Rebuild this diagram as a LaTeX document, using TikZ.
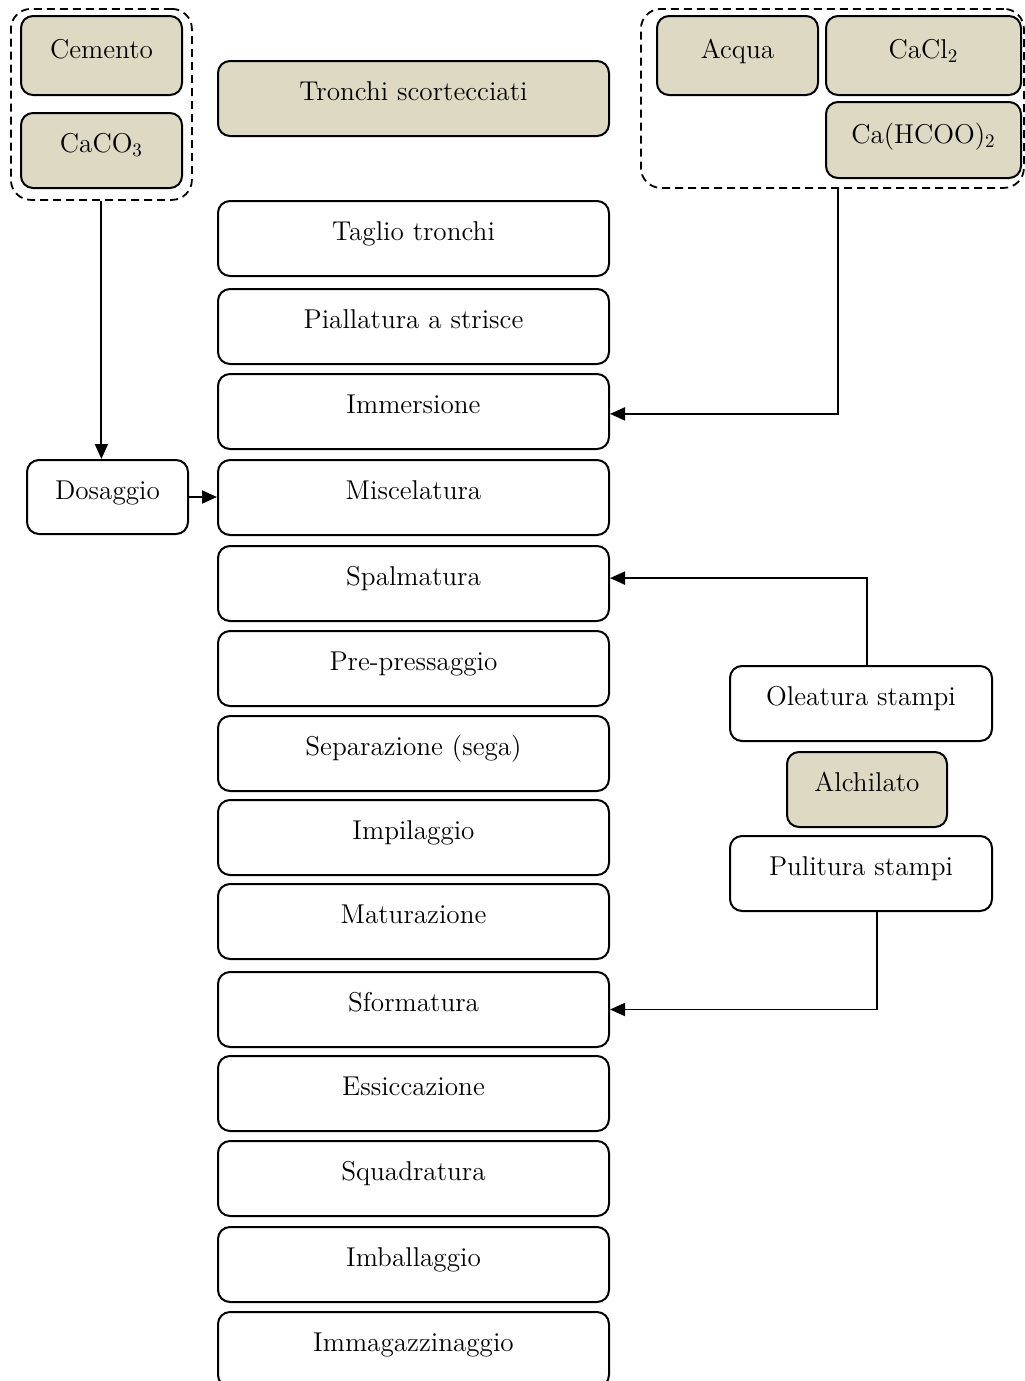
\documentclass[tikz,border=0pt]{standalone}
\usetikzlibrary{arrows.meta}
\definecolor{beige}{RGB}{221,217,195}
\begin{document}
\begin{tikzpicture}[x=0.5pt,y=-0.5pt,
  font=\fontsize{13.6}{16}\selectfont,
  box/.style={draw, line width=1pt, rounded corners=6pt, inner sep=0pt,
    anchor=north west, text height=19.8pt, text depth=17.7pt, align=center},
  main/.style={box, minimum width=195.5pt},
  chem/.style={box, fill=beige},
  grp/.style={draw, dashed, dash pattern=on 4pt off 2.5pt, line width=0.9pt,
    rounded corners=10pt, inner sep=0pt, anchor=north west},
  flow/.style={line width=0.95pt, -{Triangle[length=7.5pt,width=6.5pt]}}]
\useasboundingbox (0,0) rectangle (1024,1381);

% main process column
\node[main, fill=beige] (tronchi) at (217,60)   {Tronchi scortecciati};
\node[main] (taglio)  at (217,200)  {Taglio tronchi};
\node[main] (pial)    at (217,288)  {Piallatura a strisce};
\node[main] (imm)     at (217,373)  {Immersione};
\node[main] (misc)    at (217,459)  {Miscelatura};
\node[main] (spal)    at (217,545)  {Spalmatura};
\node[main] (pre)     at (217,630)  {Pre-pressaggio};
\node[main] (sep)     at (217,715)  {Separazione (sega)};
\node[main] (impil)   at (217,799)  {Impilaggio};
\node[main] (mat)     at (217,883)  {Maturazione};
\node[main] (sform)   at (217,971)  {Sformatura};
\node[main] (ess)     at (217,1055) {Essiccazione};
\node[main] (squad)   at (217,1140) {Squadratura};
\node[main] (imbal)   at (217,1226) {Imballaggio};
\node[main] (immag)   at (217,1311) {Immagazzinaggio};

% binder group
\node[grp, minimum width=90.5pt, minimum height=95.5pt] (lgrp) at (10,8) {};
\node[chem, minimum width=80.5pt, text height=21.3pt, text depth=18.2pt] (cem) at (20,15) {Cemento};
\node[chem, minimum width=80.5pt] (caco) at (20,112) {CaCO\textsubscript{3}};
\node[box, minimum width=80.5pt, text depth=17.2pt] (dos) at (26,459) {Dosaggio};

% additive group
\node[grp, minimum width=191.5pt, minimum height=89.5pt] (rgrp) at (640,8) {};
\node[chem, minimum width=80.5pt, text height=21.3pt, text depth=18.2pt] (acq) at (656,15) {Acqua};
\node[chem, minimum width=97.5pt, text height=21.3pt, text depth=18.2pt] (cacl) at (825,15) {CaCl\textsubscript{2}};
\node[chem, minimum width=97.5pt, text height=20.8pt, text depth=17.2pt] (caf) at (825,101) {Ca(HCOO)\textsubscript{2}};

% mould handling
\node[box, minimum width=131pt] (ole) at (729,665) {Oleatura stampi};
\node[chem, minimum width=80pt] (alc) at (786,751) {Alchilato};
\node[box, minimum width=131pt] (pul) at (729,835) {Pulitura stampi};

% connectors
\draw[flow] (lgrp.south) -- (lgrp.south |- dos.north);
\draw[flow] (dos.east) -- (dos.east -| misc.west);
\draw[flow] ([xshift=3pt]rgrp.south) |- ([yshift=-1.2pt]imm.east);
\draw[flow] ([xshift=3pt]ole.north) |- ([yshift=2.7pt]spal.east);
\draw[flow] ([xshift=8pt]pul.south) |- (sform.east);
\end{tikzpicture}
\end{document}
